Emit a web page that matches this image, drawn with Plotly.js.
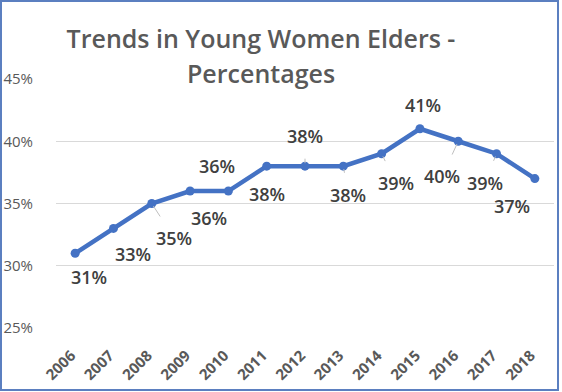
<!DOCTYPE html>
<html>
<head>
<meta charset="utf-8">
<script src="https://cdn.plot.ly/plotly-3.0.1.min.js"></script>
<style>
html,body{margin:0;padding:0;background:#fff;}
#chart{width:562px;height:392px;}
</style>
</head>
<body>
<div id="chart"></div>
<script>
const years = ["2006","2007","2008","2009","2010","2011","2012","2013","2014","2015","2016","2017","2018"];
const values = [31, 33, 35, 36, 36, 38, 38, 38, 39, 41, 40, 39, 37];
const labels = ["31%","33%","35%","36%","36%","38%","38%","38%","39%","41%","40%","39%","37%"];
const yTickVals = [25, 30, 35, 40, 45];
const yTickText = ["25%","30%","35%","40%","45%"];
const titleLine1 = "Trends in Young Women Elders -";
const titleLine2 = "Percentages";

// label offsets in pixels (style only) and whether a leader line is shown
const offsets = [[14,24],[20,26],[22,34],[19,27],[-11,-25],[0,28],[0,-30],[5,29],[14,29],[3,-24],[-16,35],[-12,29],[-23,27]];
const leaders = [false,false,true,false,false,false,true,true,true,false,true,true,false];

const labelFont = {family: 'Open Sans, sans-serif', size: 18, color: '#404040', weight: 600};
const titleFont = {family: 'Open Sans, sans-serif', size: 25, color: '#595959', weight: 600};

const annotations = years.map((y,i)=>({
  x: i, y: values[i], xref:'x', yref:'y',
  text: labels[i],
  showarrow: leaders[i],
  arrowhead: 0, arrowwidth: 1, arrowcolor: '#bfbfbf',
  standoff: 3, startstandoff: 9,
  ax: offsets[i][0], ay: offsets[i][1],
  xshift: leaders[i] ? 0 : offsets[i][0],
  yshift: leaders[i] ? 0 : -offsets[i][1],
  font: labelFont
}));
annotations.push({
  text: titleLine2, xref: 'paper', yref: 'paper',
  x: (261-56)/498, y: (328-85)/249, xanchor: 'center', yanchor: 'bottom',
  yshift: -7, showarrow: false, font: titleFont
});

const data = [{
  x: years, y: values, type: 'scatter', mode: 'lines+markers',
  line: {color: '#4472C4', width: 4.5},
  marker: {color: '#4472C4', size: 9},
  hoverinfo: 'skip'
}];

const layout = {
  width: 562, height: 392,
  margin: {l: 56, r: 8, t: 79, b: 64},
  paper_bgcolor: '#ffffff', plot_bgcolor: '#ffffff',
  showlegend: false,
  title: {
    text: titleLine1,
    font: titleFont,
    x: 261/562, xref: 'container', xanchor: 'center',
    y: 1 - 48/392, yref: 'container', yanchor: 'bottom'
  },
  xaxis: {
    type: 'category', range: [-0.5, 12.5],
    showgrid: false, zeroline: false, showline: false, ticks: '',
    tickangle: -45, ticklabelstandoff: 15, ticklabelshift: -4,
    tickfont: {family: 'Open Sans, sans-serif', size: 15, color: '#595959', weight: 700}
  },
  yaxis: {
    range: [25, 45], tickvals: yTickVals, ticktext: yTickText,
    showgrid: true, gridcolor: '#d9d9d9', gridwidth: 1,
    zeroline: false, showline: false, ticks: '',
    tickfont: {family: 'Open Sans, sans-serif', size: 15, color: '#595959'},
    ticklabelstandoff: 22
  },
  annotations: annotations,
  shapes: [{
    type: 'rect', xref: 'paper', yref: 'paper',
    x0: (1-56)/498, x1: (558-56)/498,
    y0: (328-390)/249, y1: (328-1)/249,
    line: {color: '#5b7fc0', width: 2}, fillcolor: 'rgba(0,0,0,0)', layer: 'above'
  }]
};

Plotly.newPlot('chart', data, layout, {staticPlot: true, displayModeBar: false});
</script>
</body>
</html>
